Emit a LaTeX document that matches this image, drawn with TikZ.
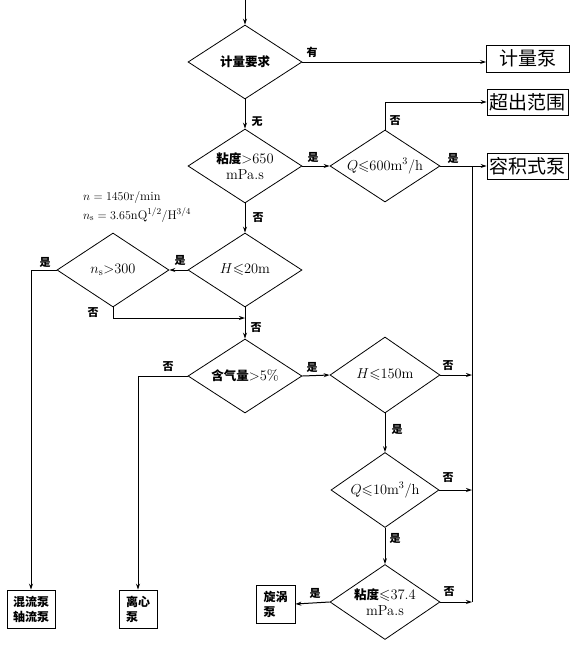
\documentclass[tikz,border=0pt]{standalone}
\usepackage{fontspec}
\usepackage{amssymb}
\newfontfamily\cjk{Noto Sans CJK SC}
\newcommand\zhb[1]{{\cjk\bfseries\fontsize{12.5}{15}\selectfont #1}}
\usetikzlibrary{shapes.geometric,arrows.meta}
\tikzset{
  dia/.style={draw, diamond, minimum width=114pt, minimum height=74pt, inner sep=0pt, line width=0.8pt},
  dtext/.style={font=\fontsize{14.5}{16}\selectfont, align=center, inner sep=0pt},
  bigbox/.style={draw, line width=0.8pt, font=\cjk\fontsize{19}{22}\selectfont, minimum width=81pt, minimum height=27pt, inner sep=0pt},
  smbox/.style={draw, line width=0.8pt, font=\cjk\bfseries\fontsize{12}{15}\selectfont, align=left, inner sep=0pt},
  lab/.style={font=\cjk\bfseries\fontsize{11}{13}\selectfont, inner sep=0pt},
  flow/.style={line width=1pt, -{Stealth[length=6pt,width=4pt]}},
  conn/.style={line width=1pt},
  formula/.style={font=\fontsize{12.5}{14}\selectfont, inner sep=0pt, anchor=west}
}
\begin{document}
\begin{tikzpicture}[x=1pt, y=-1pt]
\useasboundingbox (0,0) rectangle (581,649);

% diamonds
\node[dia] (d1) at (245,62) {};
\node[dtext] at (d1) {\zhb{计量要求}};
\node[dia] (d2) at (245,166) {};
\node[dtext] at (d2) {\zhb{粘度}$>$650\\mPa.s};
\node[dia, minimum width=110pt, minimum height=72pt] (d3) at (385,166) {};
\node[dtext] at (d3) {$Q{\leqslant}600\mathrm{m^3/h}$};
\node[dia] (d4) at (245,270) {};
\node[dtext] at (d4) {$H{\leqslant}20\mathrm{m}$};
\node[dia, minimum width=112pt] (d5) at (113,270) {};
\node[dtext] at (d5) {$n_{\mathrm s}{>}300$};
\node[dia] (d6) at (245,376) {};
\node[dtext] at (d6) {\zhb{含气量}$>$5\%};
\node[dia, minimum width=110pt, minimum height=76pt] (d7) at (385,375) {};
\node[dtext] at (d7) {$H{\leqslant}150\mathrm{m}$};
\node[dia, minimum width=108pt, minimum height=75pt] (d8) at (385,490) {};
\node[dtext] at (d8) {$Q{\leqslant}10\mathrm{m^3/h}$};
\node[dia, minimum width=110pt, minimum height=75pt] (d9) at (385,602) {};
\node[dtext] at (d9) {\zhb{粘度}$\leqslant$37.4\\mPa.s};

% boxes
\node[bigbox, minimum width=83pt] (b1) at (528,58.5) {计量泵};
\node[bigbox, minimum height=26pt] (b2) at (527.5,102) {超出范围};
\node[bigbox, minimum height=26pt] (b3) at (527.5,166) {容积式泵};
\node[smbox, minimum width=48pt, minimum height=38pt] (b4) at (31,609) {混流泵\\轴流泵};
\node[smbox, minimum width=38pt, minimum height=38pt] (b5) at (138,609) {离心\\泵};
\node[smbox, minimum width=39pt, minimum height=38pt] (b6) at (275.5,604) {旋涡\\泵};

% formula
\node[formula] (f1) at (83,197) {$n=1450\mathrm{r/min}$};
\node[formula] (f2) at (83,215) {$n_{\mathrm s}=3.65\mathrm{n}\mathrm{Q}^{1/2}/\mathrm{H}^{3/4}$};

% coordinates
\coordinate (top) at (245,0);
\coordinate (j1) at (245,318);
\coordinate (r1) at (472,375);
\coordinate (r2) at (472,490);
\coordinate (r3) at (472,602);
\coordinate (r0) at (472,166);

% connectors
\draw[flow] (top) -- (d1.north);
\draw[flow] (d1.east) -- (d1.east -| b1.west);
\draw[flow] (d1.south) -- (d2.north);
\draw[flow] (d2.east) -- (d3.west);
\draw[flow] (d3.north) |- (b2.west);
\draw[flow] (d3.east) -- (b3.west);
\draw[flow] (d2.south) -- (d4.north);
\draw[flow] (d4.west) -- (d5.east);
\draw[flow] (d5.west) -| (b4.north);
\draw[flow] (d5.south) |- (j1);
\draw[flow] (d4.south) -- (d6.north);
\draw[flow] (d6.west) -| (b5.north);
\draw[flow] (d6.east) -- (d7.west);
\draw[flow] (d7.east) -- (r1);
\draw[flow] (d7.south) -- (d8.north);
\draw[flow] (d8.east) -- (r2);
\draw[flow] (d8.south) -- (d9.north);
\draw[flow] (d9.west) -- (b6.east);
\draw[flow] (d9.east) -- (r3);
\draw[conn] (r3) -- (r0);

% labels
\node[lab] at (312,52) {有};
\node[lab] at (257,122) {无};
\node[lab] at (313,157) {是};
\node[lab] at (395,121) {否};
\node[lab] at (453,158) {是};
\node[lab] at (258,218) {否};
\node[lab] at (180,260) {是};
\node[lab] at (45,262) {是};
\node[lab] at (93,313) {否};
\node[lab] at (256,328) {否};
\node[lab] at (168,367) {否};
\node[lab] at (312,367) {是};
\node[lab] at (448,366) {否};
\node[lab] at (397,429) {是};
\node[lab] at (448,478) {否};
\node[lab] at (395,538) {是};
\node[lab] at (315,593) {是};
\node[lab] at (449,592) {否};
\end{tikzpicture}
\end{document}
